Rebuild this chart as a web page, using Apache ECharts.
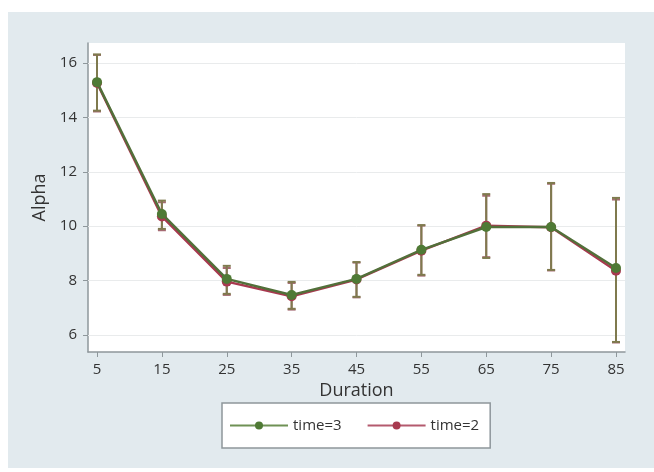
<!DOCTYPE html>
<html>
<head>
<meta charset="utf-8">
<script src="https://cdn.jsdelivr.net/npm/echarts@6/dist/echarts.min.js"></script>
<style>html,body{margin:0;padding:0;background:#fff}#c{width:654px;height:472px}</style>
</head>
<body>
<div id="c"></div>
<script>
const durations = [5, 15, 25, 35, 45, 55, 65, 75, 85];
const time3Mean = [15.30, 10.45, 8.06, 7.47, 8.06, 9.13, 9.97, 9.97, 8.46];
const time3Low  = [14.25, 9.90, 7.51, 6.96, 7.40, 8.21, 8.83, 8.39, 5.74];
const time3High = [16.32, 10.94, 8.54, 7.95, 8.68, 10.04, 11.18, 11.59, 11.04];
const time2Mean = [15.27, 10.36, 7.96, 7.42, 8.04, 9.10, 10.02, 9.96, 8.36];
const time2Low  = [14.22, 9.85, 7.47, 6.93, 7.38, 8.18, 8.86, 8.37, 5.72];
const time2High = [16.30, 10.88, 8.46, 7.91, 8.66, 10.02, 11.12, 11.56, 10.98];
const xTicks = [5, 15, 25, 35, 45, 55, 65, 75, 85];
const yTicks = [6, 8, 10, 12, 14, 16];

const FONT = '"Open Sans", "Noto Sans", sans-serif';

function errData(low, high) {
  return durations.map((d, i) => [d, low[i], high[i]]);
}
function errRender(color) {
  return function (params, api) {
    const x = api.value(0);
    const pLo = api.coord([x, api.value(1)]);
    const pHi = api.coord([x, api.value(2)]);
    const w = 4;
    const st = { stroke: color, lineWidth: 2 };
    return {
      type: 'group',
      children: [
        { type: 'line', shape: { x1: pLo[0], y1: pLo[1], x2: pHi[0], y2: pHi[1] }, style: st },
        { type: 'line', shape: { x1: pLo[0] - w, y1: pLo[1], x2: pLo[0] + w, y2: pLo[1] }, style: st },
        { type: 'line', shape: { x1: pHi[0] - w, y1: pHi[1], x2: pHi[0] + w, y2: pHi[1] }, style: st }
      ]
    };
  };
}

const chart = echarts.init(document.getElementById('c'));
chart.setOption({
  animation: false,
  textStyle: { fontFamily: FONT },
  graphic: [{
    type: 'rect', z: -10, silent: true,
    shape: { x: 8, y: 12, width: 646, height: 456 },
    style: { fill: '#e2eaee' }
  }],
  grid: {
    left: 88, top: 43, right: 29, bottom: 120,
    show: true, backgroundColor: '#ffffff', borderWidth: 0
  },
  xAxis: {
    type: 'value', min: 3.61, max: 86.39,
    name: 'Duration', nameLocation: 'middle', nameGap: 23,
    nameTextStyle: { fontSize: 18, color: '#333', fontFamily: FONT },
    axisLine: { show: true, lineStyle: { color: '#8e979b', width: 1.5 } },
    axisTick: { show: true, length: 5, customValues: xTicks, lineStyle: { color: '#8e979b' } },
    axisLabel: { customValues: xTicks, fontSize: 15, color: '#333', margin: 10, fontFamily: FONT },
    splitLine: { show: false }
  },
  yAxis: {
    type: 'value', min: 5.37, max: 16.74,
    name: 'Alpha', nameLocation: 'middle', nameGap: 38,
    nameTextStyle: { fontSize: 18, color: '#333', fontFamily: FONT },
    axisLine: { show: true, lineStyle: { color: '#8e979b', width: 1.5 } },
    axisTick: { show: true, length: 5, customValues: yTicks, lineStyle: { color: '#8e979b' } },
    axisLabel: { customValues: yTicks, fontSize: 15, color: '#333', margin: 11, fontFamily: FONT },
    splitLine: { show: false }
  },
  legend: {
    left: 222, top: 403,
    data: [
      { name: 'time=3', lineStyle: { color: '#6f9155', width: 2 }, itemStyle: { color: '#4f7a35' } },
      { name: 'time=2', lineStyle: { color: '#b45a6e', width: 2 }, itemStyle: { color: '#a8394f' } }
    ],
    itemWidth: 58, itemHeight: 10, itemGap: 25,
    padding: [15, 11, 15, 7],
    borderColor: '#8e979b', borderWidth: 1.5, backgroundColor: '#ffffff',
    textStyle: { fontSize: 15, color: '#333', fontFamily: FONT }
  },
  series: [
    {
      type: 'custom', name: 'err2', data: errData(time2Low, time2High),
      renderItem: errRender('#a56a72'), z: 2, silent: true,
      markLine: {
        silent: true, symbol: 'none', z: 1, label: { show: false },
        lineStyle: { color: '#e9ebec', width: 1, type: 'solid' },
        data: yTicks.map(v => ({ yAxis: v }))
      }
    },
    {
      type: 'custom', name: 'err3', data: errData(time3Low, time3High),
      renderItem: errRender('#7f7a4e'), z: 2, silent: true
    },
    {
      type: 'line', name: 'time=2', data: durations.map((d, i) => [d, time2Mean[i]]),
      symbol: 'circle', symbolSize: 10, z: 3,
      lineStyle: { color: '#a8394f', width: 2.5 },
      itemStyle: { color: '#a8394f' }
    },
    {
      type: 'line', name: 'time=3', data: durations.map((d, i) => [d, time3Mean[i]]),
      symbol: 'circle', symbolSize: 10, z: 4,
      lineStyle: { color: '#52703a', width: 2.5 },
      itemStyle: { color: '#4f7a35' }
    }
  ]
});
</script>
</body>
</html>
